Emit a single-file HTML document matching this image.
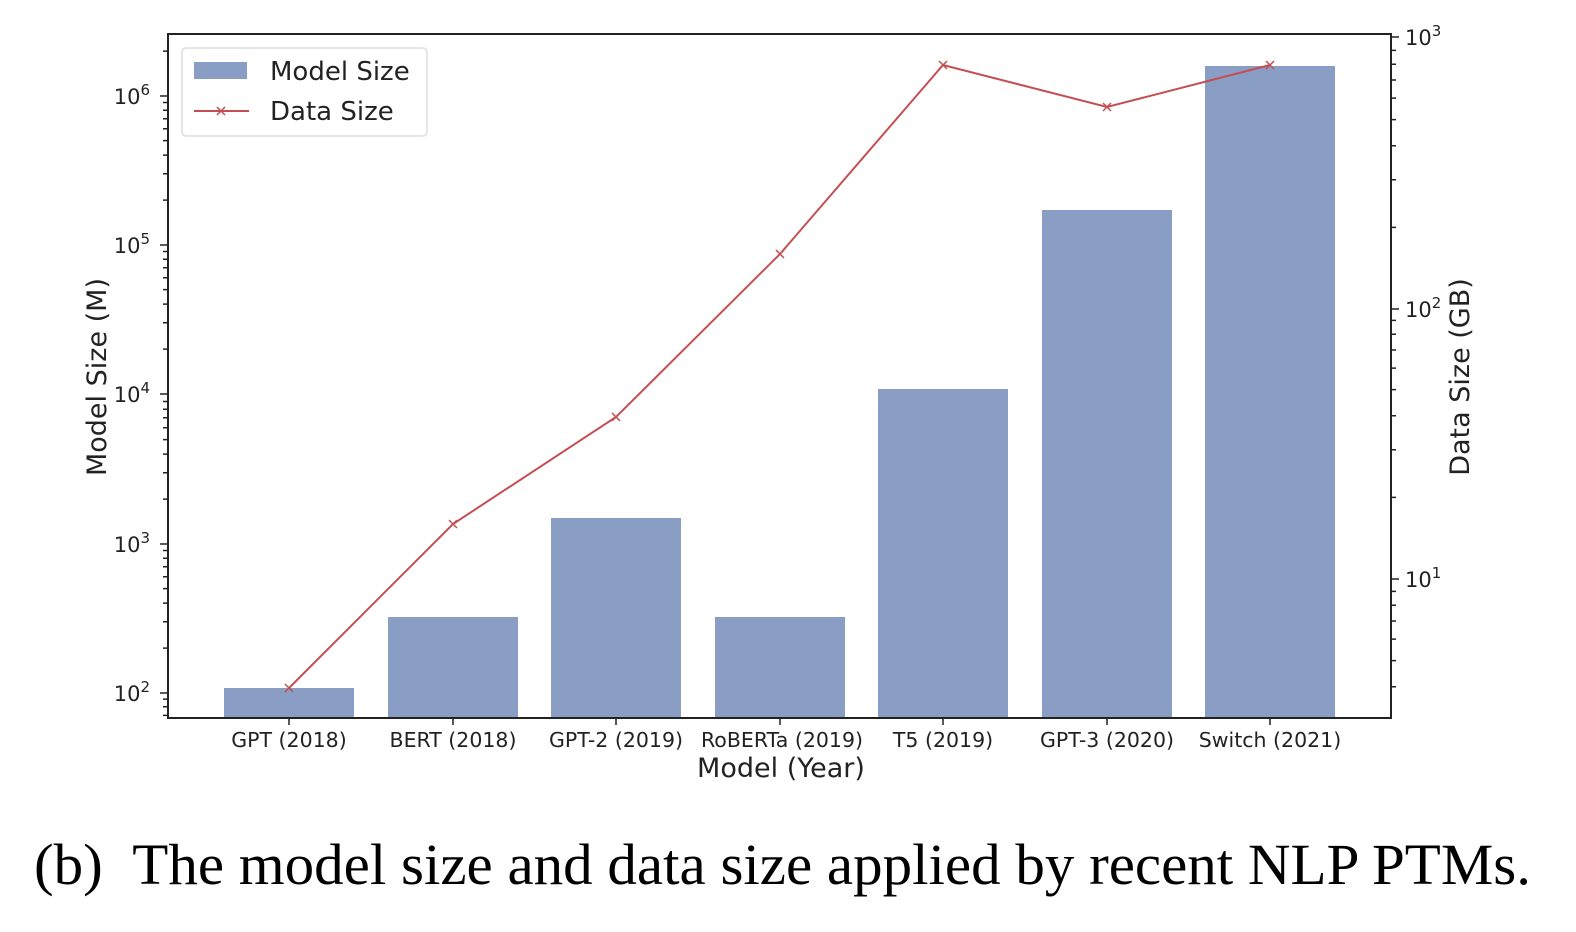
<!DOCTYPE html>
<html><head><style>body{margin:0;background:#fff}svg{display:block}</style></head><body>
<svg width="1576" height="932" xmlns="http://www.w3.org/2000/svg" font-family="'DejaVu Sans', 'Liberation Sans', sans-serif">
<g fill="#8a9dc4">
<rect x="224" y="688" width="130" height="30"/>
<rect x="388" y="617" width="130" height="101"/>
<rect x="551" y="518" width="130" height="200"/>
<rect x="715" y="617" width="130" height="101"/>
<rect x="878" y="389" width="130" height="329"/>
<rect x="1042" y="210" width="130" height="508"/>
<rect x="1205" y="66" width="130" height="652"/>
</g>
<polyline points="289,688 453,524 616,417 780,254 943,65 1107,107 1270,65" fill="none" stroke="#c44e52" stroke-width="2"/>
<g stroke="#c44e52" stroke-width="1.5">
<path d="M285,684l8,8M293,684l-8,8M449,520l8,8M457,520l-8,8M612,413l8,8M620,413l-8,8M776,250l8,8M784,250l-8,8M939,61l8,8M947,61l-8,8M1103,103l8,8M1111,103l-8,8M1266,61l8,8M1274,61l-8,8"/>
</g>
<rect x="168" y="34" width="1223" height="684" fill="none" stroke="#222" stroke-width="2"/>
<g id="ticks" stroke="#222" stroke-width="1.5"></g>
<g font-size="21" fill="#222" text-anchor="end">
<text x="150" y="701">10<tspan font-size="15" dy="-9">2</tspan></text>
<text x="150" y="552">10<tspan font-size="15" dy="-9">3</tspan></text>
<text x="150" y="402">10<tspan font-size="15" dy="-9">4</tspan></text>
<text x="150" y="253">10<tspan font-size="15" dy="-9">5</tspan></text>
<text x="150" y="104">10<tspan font-size="15" dy="-9">6</tspan></text>
</g>
<g font-size="21" fill="#222">
<text x="1405" y="587">10<tspan font-size="15" dy="-9">1</tspan></text>
<text x="1405" y="317">10<tspan font-size="15" dy="-9">2</tspan></text>
<text x="1405" y="45">10<tspan font-size="15" dy="-9">3</tspan></text>
</g>
<g font-size="20.5" fill="#222" text-anchor="middle">
<text x="289" y="747">GPT (2018)</text>
<text x="453" y="747">BERT (2018)</text>
<text x="616" y="747">GPT-2 (2019)</text>
<text x="782" y="747">RoBERTa (2019)</text>
<text x="943" y="747">T5 (2019)</text>
<text x="1107" y="747">GPT-3 (2020)</text>
<text x="1270" y="747">Switch (2021)</text>
<text x="781" y="777" font-size="27">Model (Year)</text>
<text transform="translate(106,377) rotate(-90)" font-size="27">Model Size (M)</text>
<text transform="translate(1469,377) rotate(-90)" font-size="27">Data Size (GB)</text>
</g>
<rect x="182" y="48" width="245" height="88" rx="4" fill="#fff" stroke="#ddd" stroke-width="1.5"/>
<rect x="194" y="62" width="53" height="17" fill="#8a9dc4"/>
<line x1="194" y1="111" x2="249" y2="111" stroke="#c44e52" stroke-width="2"/>
<path d="M217,107l8,8M225,107l-8,8" stroke="#c44e52" stroke-width="1.5"/>
<g font-size="26" fill="#222"><text x="270" y="80">Model Size</text><text x="270" y="120">Data Size</text></g>
<text x="34" y="884" font-family="'Liberation Serif', serif" font-size="58" fill="#000" textLength="1497" lengthAdjust="spacingAndGlyphs">(b)&#160;&#160;The model size and data size applied by recent NLP PTMs.</text>
</svg>
<script>
var g=document.getElementById('ticks'),d='';
var L=[693,544,394,245,96];
for(var i=0;i<L.length;i++){d+='M168,'+L[i]+'h-8';}
var decs=[841.6,693,544,394,245,96];
for(var i=0;i<decs.length;i++)for(var k=2;k<10;k++){var y=decs[i]-Math.log10(k)*149.3;if(y>34&&y<718)d+='M168,'+y.toFixed(1)+'h-5';}
var R=[579,309,37];
for(var i=0;i<R.length;i++){d+='M1391,'+R[i]+'h8';}
var rd=[850,579,309];
for(var i=0;i<rd.length;i++)for(var k=2;k<10;k++){var y=rd[i]-Math.log10(k)*271;if(y>34&&y<718)d+='M1391,'+y.toFixed(1)+'h5';}
var xs=[289,453,616,780,943,1107,1270];
for(var i=0;i<xs.length;i++)d+='M'+xs[i]+',718v7';
var p=document.createElementNS('http://www.w3.org/2000/svg','path');p.setAttribute('d',d);g.appendChild(p);
</script>
</body></html>
